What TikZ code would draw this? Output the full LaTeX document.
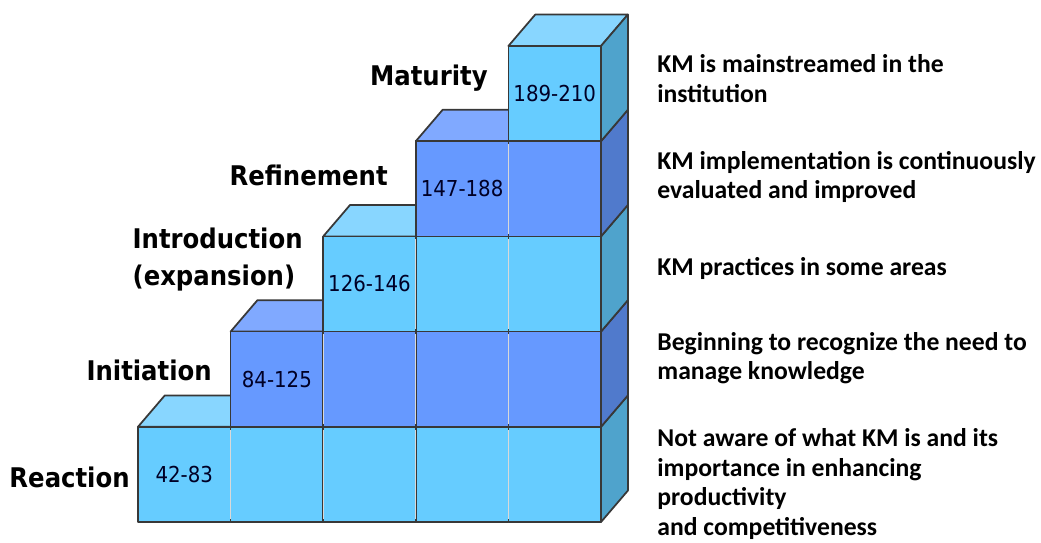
\documentclass[tikz,border=0pt]{standalone}
\usepackage{fontspec}
\setsansfont{DejaVu Sans Condensed}
\newfontfamily\notefont{Carlito}

\definecolor{litefront}{HTML}{66CCFF}
\definecolor{litetop}{HTML}{88D6FF}
\definecolor{liteside}{HTML}{4FA3CC}
\definecolor{darkfront}{HTML}{6699FF}
\definecolor{darktop}{HTML}{80A9FF}
\definecolor{darkside}{HTML}{507ACC}

\tikzset{
  face/.style={draw=black!78, line width=1pt, line join=round},
  lite/.style={face, fill=litefront},
  dark/.style={face, fill=darkfront},
  seam/.style={draw=gray!30, line width=0.7pt},
  score/.style={font=\sffamily\fontsize{12.5}{14}\selectfont, text=black!85!blue, inner sep=0pt},
  stage/.style={font=\sffamily\bfseries\fontsize{15.4}{21}\selectfont, anchor=east, inner sep=0pt},
  note/.style={font=\notefont\bfseries\fontsize{14.6}{16.7}\selectfont, anchor=west, align=left, inner sep=0pt}
}

\begin{document}
\begin{tikzpicture}[x=1.852cm,y=1.904cm]
  \useasboundingbox (-1.490,-0.210) rectangle (9.751,5.483);

  % top faces of the steps
  \filldraw[face,fill=litetop] (0,1) -- (0.29,1.33) -- (1.29,1.33) -- (1,1) -- cycle;
  \filldraw[face,fill=darktop] (1,2) -- (1.29,2.33) -- (2.29,2.33) -- (2,2) -- cycle;
  \filldraw[face,fill=litetop] (2,3) -- (2.29,3.33) -- (3.29,3.33) -- (3,3) -- cycle;
  \filldraw[face,fill=darktop] (3,4) -- (3.29,4.33) -- (4.29,4.33) -- (4,4) -- cycle;
  \filldraw[face,fill=litetop] (4,5) -- (4.29,5.33) -- (5.29,5.33) -- (5,5) -- cycle;

  % right side of the last column
  \filldraw[face,fill=liteside] (5,0) -- (5.29,0.33) -- (5.29,1.33) -- (5,1) -- cycle;
  \filldraw[face,fill=darkside] (5,1) -- (5.29,1.33) -- (5.29,2.33) -- (5,2) -- cycle;
  \filldraw[face,fill=liteside] (5,2) -- (5.29,2.33) -- (5.29,3.33) -- (5,3) -- cycle;
  \filldraw[face,fill=darkside] (5,3) -- (5.29,3.33) -- (5.29,4.33) -- (5,4) -- cycle;
  \filldraw[face,fill=liteside] (5,4) -- (5.29,4.33) -- (5.29,5.33) -- (5,5) -- cycle;

  % front faces, row by row
  \filldraw[lite] (0,0) rectangle (1,1);
  \filldraw[lite] (1,0) rectangle (2,1);
  \filldraw[lite] (2,0) rectangle (3,1);
  \filldraw[lite] (3,0) rectangle (4,1);
  \filldraw[lite] (4,0) rectangle (5,1);

  \filldraw[dark] (1,1) rectangle (2,2);
  \filldraw[dark] (2,1) rectangle (3,2);
  \filldraw[dark] (3,1) rectangle (4,2);
  \filldraw[dark] (4,1) rectangle (5,2);

  \filldraw[lite] (2,2) rectangle (3,3);
  \filldraw[lite] (3,2) rectangle (4,3);
  \filldraw[lite] (4,2) rectangle (5,3);

  \filldraw[dark] (3,3) rectangle (4,4);
  \filldraw[dark] (4,3) rectangle (5,4);

  \filldraw[lite] (4,4) rectangle (5,5);

  % light joints between the columns
  \draw[seam] (1,0.03) -- (1,0.97);
  \draw[seam] (2,0.03) -- (2,0.97);
  \draw[seam] (3,0.03) -- (3,0.97);
  \draw[seam] (4,0.03) -- (4,0.97);
  \draw[seam] (2,1.03) -- (2,1.97);
  \draw[seam] (3,1.03) -- (3,1.97);
  \draw[seam] (4,1.03) -- (4,1.97);
  \draw[seam] (3,2.03) -- (3,2.97);
  \draw[seam] (4,2.03) -- (4,2.97);
  \draw[seam] (4,3.03) -- (4,3.97);

  % score bands
  \node[score] (r1) at (0.5,0.5) {42-83};
  \node[score] (r2) at (1.5,1.5) {84-125};
  \node[score] (r3) at (2.5,2.5) {126-146};
  \node[score] (r4) at (3.5,3.5) {147-188};
  \node[score] (r5) at (4.5,4.5) {189-210};

  % stage names
  \node[stage] (reaction) at (-0.086,0.473) {Reaction};
  \node[stage] (initiation) at (0.80,1.597) {Initiation};
  \node[stage,align=left] (introduction) at (1.782,2.757) {Introduction\\(expansion)};
  \node[stage] (refinement) at (2.70,3.645) {Refinement};
  \node[stage] (maturity) at (3.78,4.664) {Maturity};

  % descriptions
  \node[note] (d5) at (5.605,4.659) {KM is mainstreamed in the\\institution};
  \node[note] (d4) at (5.605,3.624) {KM implementation is continuously\\evaluated and improved};
  \node[note] (d3) at (5.605,2.668) {KM practices in some areas};
  \node[note] (d2) at (5.605,1.723) {Beginning to recognize the need to\\manage knowledge};
  \node[note] (d1) at (5.605,0.399) {Not aware of what KM is and its\\importance in enhancing\\productivity\\and competitiveness};
\end{tikzpicture}
\end{document}
